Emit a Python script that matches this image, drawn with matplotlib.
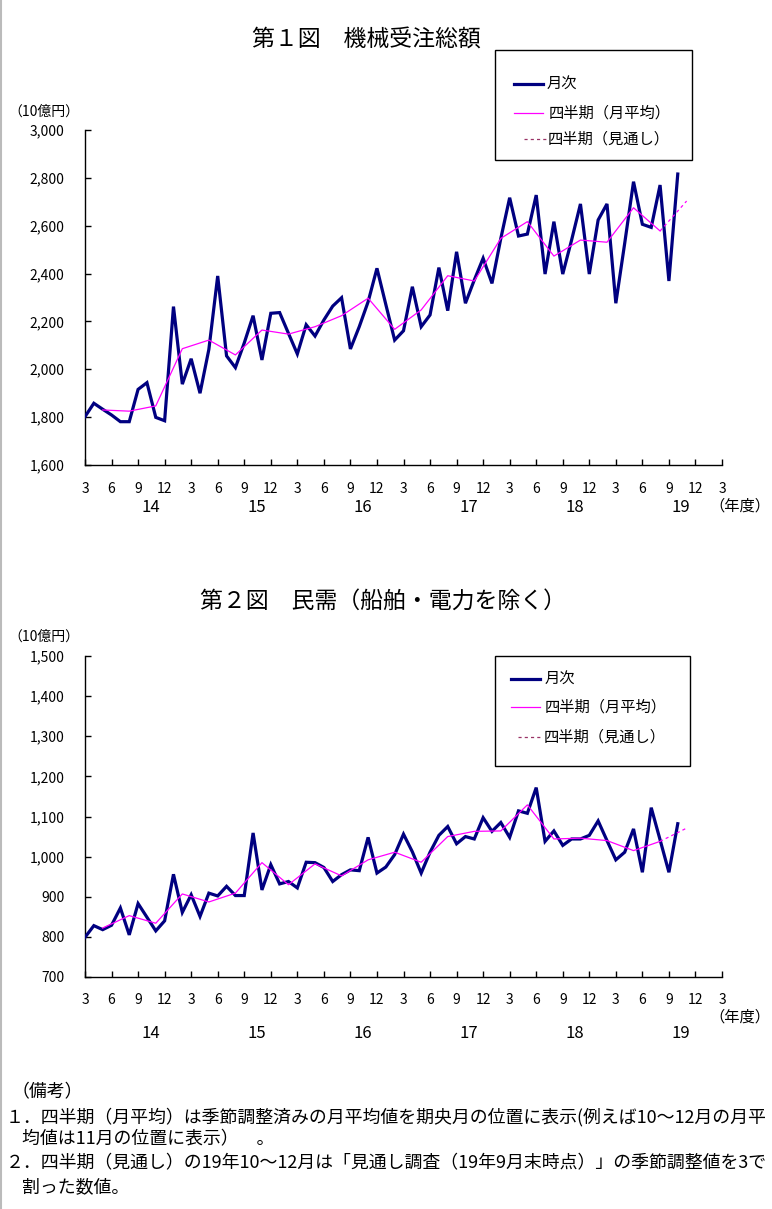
import matplotlib
matplotlib.use("Agg")
import matplotlib.pyplot as plt
from matplotlib.lines import Line2D
from matplotlib.patches import Rectangle
from matplotlib.transforms import blended_transform_factory
import numpy as np

plt.rcParams['font.family'] = ['Noto Sans CJK JP', 'DejaVu Sans']

# ---------------- data ----------------
month_ticks = ["3", "6", "9", "12"] * 6 + ["3"]
fiscal_years = ["14", "15", "16", "17", "18", "19"]

# monthly values, March 2014 .. October 2019 (10億円)
total_monthly = [1802, 1858, 1833, 1809, 1781, 1781, 1916, 1944, 1799, 1785, 2262, 1938,
                 2044, 1900, 2083, 2390, 2056, 2007, 2110, 2224, 2039, 2234, 2237, 2150,
                 2064, 2186, 2139, 2206, 2264, 2299, 2085, 2178, 2282, 2422, 2271, 2122,
                 2161, 2345, 2178, 2227, 2425, 2245, 2491, 2276, 2373, 2464, 2359, 2547,
                 2717, 2557, 2565, 2728, 2398, 2617, 2398, 2540, 2691, 2398, 2624, 2691,
                 2276, 2526, 2784, 2606, 2593, 2770, 2369, 2816]
# quarterly monthly-average (plotted at the middle month of each quarter)
total_quarterly = [1830, 1825, 1847, 2086, 2122, 2060, 2164, 2147, 2178, 2224, 2297,
                   2167, 2248, 2391, 2369, 2547, 2617, 2473, 2540, 2531, 2675, 2578]
total_forecast = 2703

private_monthly = [799, 828, 818, 829, 872, 805, 883, 849, 815, 840, 956, 861,
                   905, 851, 909, 902, 926, 903, 903, 1059, 917, 980, 932, 938,
                   922, 986, 985, 973, 938, 955, 967, 965, 1048, 959, 974, 1005,
                   1056, 1012, 959, 1011, 1053, 1075, 1032, 1050, 1044, 1097, 1063, 1085,
                   1048, 1114, 1108, 1172, 1038, 1064, 1028, 1044, 1044, 1053, 1089, 1040,
                   992, 1011, 1069, 961, 1122, 1042, 961, 1082]
private_quarterly = [822, 853, 834, 907, 887, 909, 985, 930, 982, 952, 992,
                     1011, 986, 1050, 1063, 1064, 1129, 1044, 1046, 1040, 1015, 1038]
private_forecast = 1071

NAVY = "#000080"
MAG = "#FF00FF"
W, H = 772, 1209

fig = plt.figure(figsize=(W / 100, H / 100), dpi=100)
fig.patch.set_facecolor("white")


def fx(x):
    return x / W


def fy(y):
    return 1 - y / H


def make_chart(top, bottom, ylo, yhi, ystep, monthly, quarterly, forecast,
               title, title_y, unit_y, month_y, year_y, nendo_y, legend_box, legend_rows):
    ax = fig.add_axes([fx(85), fy(bottom), fx(722) - fx(85), fy(top) - fy(bottom)])
    xm = np.arange(len(monthly))
    xq = np.arange(2, 2 + 3 * len(quarterly), 3)
    ax.plot(xm, monthly, color=NAVY, lw=2.3, solid_joinstyle="miter", zorder=3)
    ax.plot(xq, quarterly, color=MAG, lw=0.9, zorder=4)
    ax.plot([xq[-1], xq[-1] + 3], [quarterly[-1], forecast], color=MAG, lw=0.9,
            ls=(0, (2.5, 2.5)), zorder=4)
    ax.set_xlim(0, 72)
    ax.set_ylim(ylo, yhi)
    for s in ("top", "right"):
        ax.spines[s].set_visible(False)
    for s in ("left", "bottom"):
        ax.spines[s].set_linewidth(1.0)
    ax.set_xticks(np.arange(0, 73, 3))
    ax.set_xticklabels([])
    ax.set_yticks(np.arange(ylo, yhi + 1, ystep))
    ax.set_yticklabels([f"{v:,}" for v in np.arange(ylo, yhi + 1, ystep)], fontsize=10)
    ax.tick_params(axis="both", direction="in", length=4, width=1)
    ax.tick_params(axis="y", pad=15)
    tr = blended_transform_factory(ax.transData, fig.transFigure)
    for i, lab in enumerate(month_ticks):
        ax.text(3 * i, fy(month_y), lab, transform=tr, ha="center", va="center", fontsize=10)
    for k, yr in enumerate(fiscal_years):
        ax.text(7.4 + 12 * k, fy(year_y), yr, transform=tr, ha="center", va="center", fontsize=12)
    fig.text(fx(740), fy(nendo_y), "（年度）", ha="center", va="center", fontsize=11)
    fig.text(fx(44), fy(unit_y), "（10億円）", ha="center", va="center", fontsize=10)
    fig.text(fx((title[1] + title[2]) / 2), fy(title_y), title[0], ha="center", va="center",
             fontsize=16.5)
    # legend
    x0, y0, x1, y1 = legend_box
    fig.add_artist(Rectangle((fx(x0), fy(y1)), fx(x1) - fx(x0), fy(y0) - fy(y1),
                             transform=fig.transFigure, fill=False, ec="black", lw=1.0))
    styles = [dict(color=NAVY, lw=2.3), dict(color=MAG, lw=0.9),
              dict(color="#993366", lw=0.9, ls=(0, (2.5, 2.5)))]
    labels = ["月次", "四半期（月平均）", "四半期（見通し）"]
    for (ly, lx0, lx1, tx), st, lab in zip(legend_rows, styles, labels):
        fig.add_artist(Line2D([fx(lx0), fx(lx1)], [fy(ly), fy(ly)], transform=fig.transFigure, **st))
        fig.text(fx(tx), fy(ly), lab, ha="left", va="center", fontsize=11)
    return ax


make_chart(130, 465, 1600, 3000, 200, total_monthly, total_quarterly, total_forecast,
           ("第１図　機械受注総額", 247, 486), 40, 112, 489, 508, 506,
           (495, 50, 692, 160),
           [(84, 514, 543, 547), (113, 514, 543, 549), (139, 524, 547, 548)])

make_chart(656, 977, 700, 1500, 100, private_monthly, private_quarterly, private_forecast,
           ("第２図　民需（船舶・電力を除く）", 200, 567), 601, 637, 1000, 1033, 1017,
           (495, 656, 690, 766),
           [(679, 511, 540, 545), (707, 511, 540, 545), (737, 518, 543, 544)])

# notes
notes = [
    (12, 1092, "（備考）"),
    (6, 1117, "１．四半期（月平均）は季節調整済みの月平均値を期央月の位置に表示(例えば10～12月の月平"),
    (22, 1139, "均値は11月の位置に表示）　。"),
    (6, 1163, "２．四半期（見通し）の19年10～12月は「見通し調査（19年9月末時点）」の季節調整値を3で"),
    (22, 1187, "割った数値。"),
]
for x, y, t in notes:
    fig.text(fx(x), fy(y), t, ha="left", va="center", fontsize=12.9)

# thin grey frame line at left edge
fig.add_artist(Line2D([fx(1), fx(1)], [0, 1], transform=fig.transFigure, color="#BBBBBB", lw=1.5))

fig.savefig("out.png", dpi=100, facecolor="white")
